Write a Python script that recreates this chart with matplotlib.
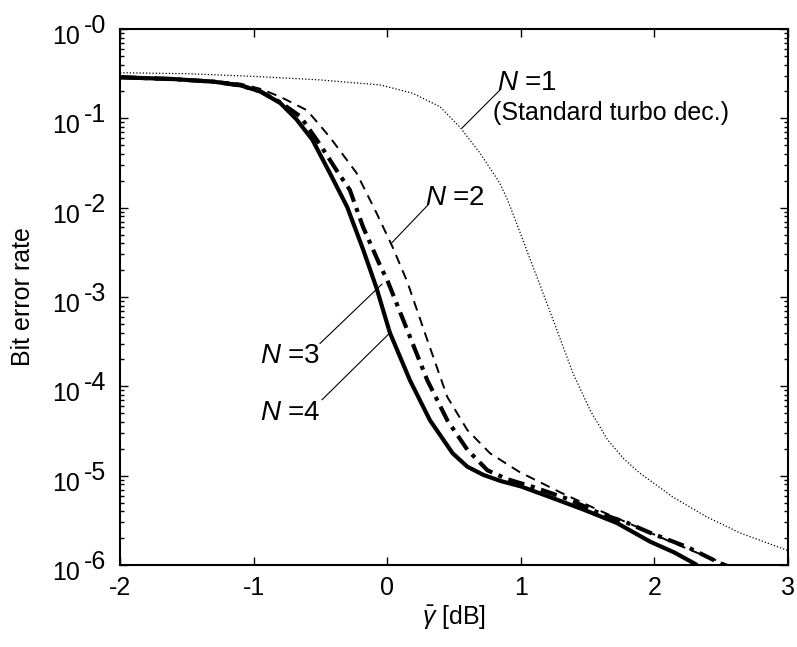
import matplotlib
matplotlib.use("Agg")
import matplotlib.pyplot as plt
from matplotlib.ticker import LogLocator, NullFormatter, FixedLocator
from matplotlib.transforms import offset_copy

plt.rcParams['font.family'] = ['Liberation Sans', 'DejaVu Sans']
plt.rcParams['mathtext.fontset'] = 'custom'
plt.rcParams['mathtext.rm'] = 'Liberation Sans'
plt.rcParams['mathtext.it'] = 'Liberation Sans:italic'

# N=1 (standard turbo decoding), dotted
snr_n1 = [-2.0, -1.5, -1.0, -0.5, -0.05, 0.19, 0.395, 0.545, 0.695, 0.84, 0.90, 0.97,
          1.05, 1.14, 1.27, 1.39, 1.52, 1.65, 1.77, 1.89, 2.14, 2.39, 2.64, 3.0]
ber_n1 = [0.324, 0.316, 0.295, 0.269, 0.236, 0.191, 0.135, 0.0794, 0.0407, 0.0191,
          0.0123, 0.00661, 0.00316, 0.00141, 4.27e-4, 1.41e-4, 5.37e-5, 2.51e-5,
          1.55e-5, 1.07e-5, 5.75e-6, 3.47e-6, 2.29e-6, 1.45e-6]

# N=2, dashed
snr_n2 = [-2.0, -1.6, -1.3, -1.1, -0.95, -0.8, -0.6, -0.43, -0.23, -0.08, 0.04, 0.15,
          0.30, 0.45, 0.60, 0.77, 0.99, 1.3, 1.59, 1.85, 2.09, 2.3, 2.55]
ber_n2 = [0.288, 0.275, 0.263, 0.245, 0.214, 0.174, 0.123, 0.0617, 0.0245, 0.00871,
          0.00363, 0.00148, 3.31e-4, 7.59e-5, 3.24e-5, 1.78e-5, 1.10e-5, 6.46e-6,
          4.07e-6, 2.75e-6, 1.91e-6, 1.41e-6, 1.0e-6]

# N=3, dash-dot
snr_n3 = [-2.0, -1.6, -1.3, -1.1, -0.95, -0.8, -0.65, -0.5, -0.38, -0.28, -0.18, -0.05,
          0.0, 0.15, 0.30, 0.45, 0.60, 0.75, 0.9, 1.1, 1.35, 1.59, 1.8, 1.97, 2.25, 2.52]
ber_n3 = [0.288, 0.275, 0.257, 0.234, 0.200, 0.151, 0.105, 0.0501, 0.0263, 0.0158,
          0.00603, 0.00219, 0.00155, 4.27e-4, 1.17e-4, 4.17e-5, 1.95e-5, 1.15e-5,
          9.12e-6, 7.41e-6, 5.50e-6, 3.80e-6, 2.95e-6, 2.29e-6, 1.58e-6, 1.0e-6]

# N=4, thick solid
snr_n4 = [-2.0, -1.6, -1.3, -1.1, -0.95, -0.8, -0.68, -0.56, -0.43, -0.30, -0.18, -0.08,
          0.02, 0.17, 0.32, 0.49, 0.6, 0.72, 0.85, 1.0, 1.22, 1.47, 1.72, 1.97, 2.15, 2.32]
ber_n4 = [0.288, 0.275, 0.257, 0.234, 0.200, 0.148, 0.0977, 0.0575, 0.0245, 0.0102,
          0.00339, 0.00126, 3.98e-4, 1.17e-4, 4.17e-5, 1.78e-5, 1.26e-5, 1.02e-5,
          8.71e-6, 7.59e-6, 5.75e-6, 4.17e-6, 2.95e-6, 1.82e-6, 1.38e-6, 1.0e-6]

xticks = [-2, -1, 0, 1, 2, 3]
yticks = [1e-6, 1e-5, 1e-4, 1e-3, 1e-2, 1e-1, 1e0]
ytick_exps = ['-6', '-5', '-4', '-3', '-2', '-1', '-0']

fig = plt.figure(figsize=(7.97, 6.47), dpi=100)
ax = fig.add_axes([0.1506, 0.1267, 0.8381, 0.8285])

ax.plot(snr_n1, ber_n1, color='black', lw=0.9, linestyle=(0, (1, 1.6)))
ax.plot(snr_n2, ber_n2, color='black', lw=1.4, linestyle=(0, (5, 3.5)))
ax.plot(snr_n3, ber_n3, color='black', lw=3.0, linestyle=(0, (4, 1.6, 1, 1.6)))
ax.plot(snr_n4, ber_n4, color='black', lw=3.0, solid_capstyle='butt')

ax.set_yscale('log')
ax.set_xlim(-2, 3)
ax.set_ylim(1e-6, 1)
ax.xaxis.set_major_locator(FixedLocator(xticks))
ax.set_xticklabels([str(t) for t in xticks])
ax.set_yticks(yticks)
ax.set_yticklabels([''] * len(yticks))
ax.yaxis.set_minor_locator(LogLocator(base=10, subs=range(2, 10), numticks=20))
ax.yaxis.set_minor_formatter(NullFormatter())

ax.tick_params(which='both', direction='in', top=True, right=True, labelsize=18,
               width=1.0, color='black')
ax.tick_params(which='major', length=6)
ax.tick_params(axis='x', which='major', pad=8)
ax.tick_params(which='minor', length=3)
for s in ax.spines.values():
    s.set_linewidth(1.5)

# MATLAB-style "10^-k" labels, exponent at full size
ytr = ax.get_yaxis_transform()
for val, ex in zip(yticks, ytick_exps):
    t1 = offset_copy(ytr, fig=fig, x=-40, y=-15, units='dots')
    t2 = offset_copy(ytr, fig=fig, x=-36, y=-4, units='dots')
    ax.text(0, val, '10', transform=t1, ha='right', va='baseline', fontsize=18,
            clip_on=False)
    ax.text(0, val, ex, transform=t2, ha='left', va='baseline', fontsize=18,
            clip_on=False)

ax.set_xlabel(r'$\bar{\gamma}$ [dB]', fontsize=18, labelpad=2)
ax.set_ylabel('Bit error rate', fontsize=18)
ax.yaxis.set_label_coords(-0.128, 0.5)

# annotations
ax.text(0.82, 10**-0.68, r'$N$ =1', fontsize=20, va='baseline', ha='left')
ax.text(0.79, 10**-1.02, '(Standard turbo dec.)', fontsize=18, va='baseline', ha='left')
ax.plot([0.844, 0.56], [10**-0.683, 10**-1.109], color='black', lw=0.8)

ax.text(0.283, 10**-1.97, r'$N$ =2', fontsize=20, va='baseline', ha='left')
ax.plot([0.305, 0.03], [10**-1.97, 10**-2.40], color='black', lw=0.8)

ax.text(-0.952, 10**-3.74, r'$N$ =3', fontsize=20, va='baseline', ha='left')
ax.plot([-0.503, -0.039], [10**-3.52, 10**-2.855], color='black', lw=0.8)

ax.text(-0.952, 10**-4.38, r'$N$ =4', fontsize=20, va='baseline', ha='left')
ax.plot([-0.488, 0.021], [10**-4.15, 10**-3.40], color='black', lw=0.8)

fig.savefig('out.png', dpi=100)
